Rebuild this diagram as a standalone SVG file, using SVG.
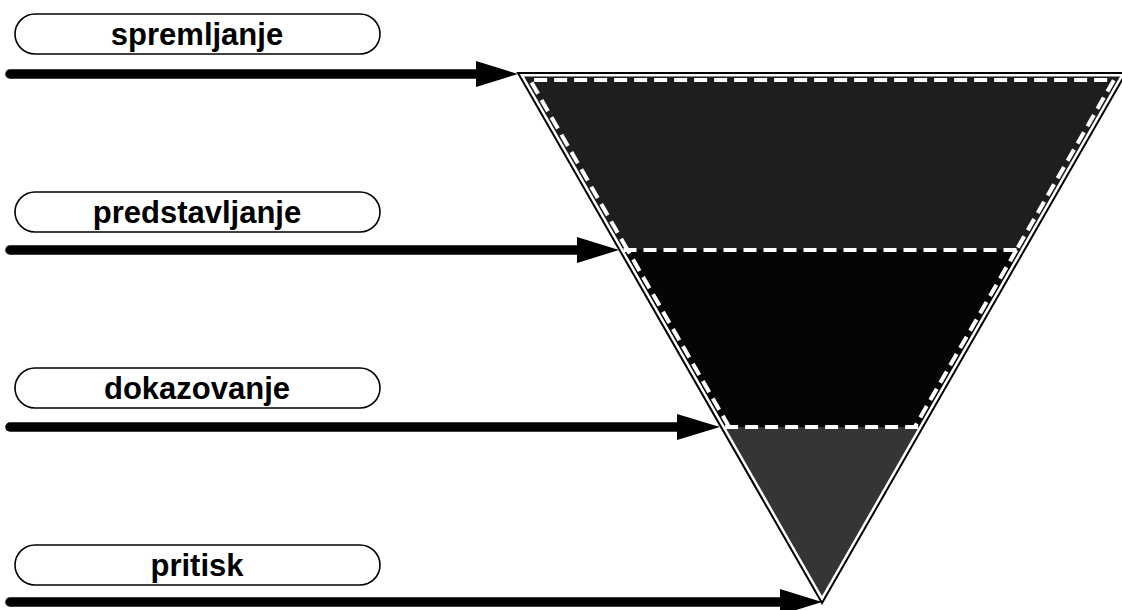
<svg xmlns="http://www.w3.org/2000/svg" width="1122" height="610" viewBox="0 0 1122 610">
  <style>
    .pill { fill: #ffffff; stroke: #000000; stroke-width: 1.6; }
    .lbl { font-family: "Liberation Sans", Arial, sans-serif; font-weight: bold; font-size: 31px; fill: #000000; text-anchor: middle; }
    .shaft { stroke: #000000; stroke-width: 9.5; stroke-linecap: round; fill: none; }
    .head { fill: #000000; }
    .dash { stroke: #ffffff; stroke-width: 4; stroke-dasharray: 13 7; stroke-linejoin: round; fill: none; }
  </style>
  <rect width="1122" height="610" fill="#ffffff"/>

  <g id="funnel">
    <polygon points="518,73 1126,73 822,603" fill="#ffffff" stroke="#000000" stroke-width="2"/>
    <polygon id="band1" points="524,76.5 1120,76.5 1020.5,250 623.5,250" fill="#1e1e1e"/>
    <polygon id="band2" points="623.5,250 1020.5,250 918.9,427 725.1,427" fill="#050505"/>
    <polygon id="band3" points="725.1,427 918.9,427 822,596" fill="#353535"/>
    <polyline class="dash" points="627.6,250 530.1,80 1113.9,80 1016.4,250"/>
    <line class="dash" x1="623.5" y1="250" x2="1020.5" y2="250"/>
    <polyline class="dash" points="729.2,427 627.6,250"/>
    <polyline class="dash" points="1016.4,250 914.8,427"/>
    <line class="dash" x1="725.1" y1="427" x2="918.9" y2="427"/>
  </g>

  <g id="node-spremljanje">
    <rect class="pill" x="15" y="14" width="365" height="40" rx="20"/>
    <text class="lbl" x="197" y="45">spremljanje</text>
  </g>
  <g id="node-predstavljanje">
    <rect class="pill" x="15" y="192" width="365" height="40" rx="20"/>
    <text class="lbl" x="197" y="223">predstavljanje</text>
  </g>
  <g id="node-dokazovanje">
    <rect class="pill" x="15" y="368" width="365" height="40" rx="20"/>
    <text class="lbl" x="197" y="399">dokazovanje</text>
  </g>
  <g id="node-pritisk">
    <rect class="pill" x="15" y="545" width="365" height="40" rx="20"/>
    <text class="lbl" x="197" y="576">pritisk</text>
  </g>

  <g id="connectors">
    <line class="shaft" x1="10" y1="74" x2="480" y2="74"/>
    <polygon class="head" points="476,61 518,74 476,87"/>
    <line class="shaft" x1="10" y1="250" x2="581" y2="250"/>
    <polygon class="head" points="577,237 619,250 577,263"/>
    <line class="shaft" x1="10" y1="427" x2="681" y2="427"/>
    <polygon class="head" points="677,414 720,427 677,440"/>
    <line class="shaft" x1="10" y1="602" x2="784" y2="602"/>
    <polygon class="head" points="780,589 822,602 780,615"/>
  </g>
</svg>
